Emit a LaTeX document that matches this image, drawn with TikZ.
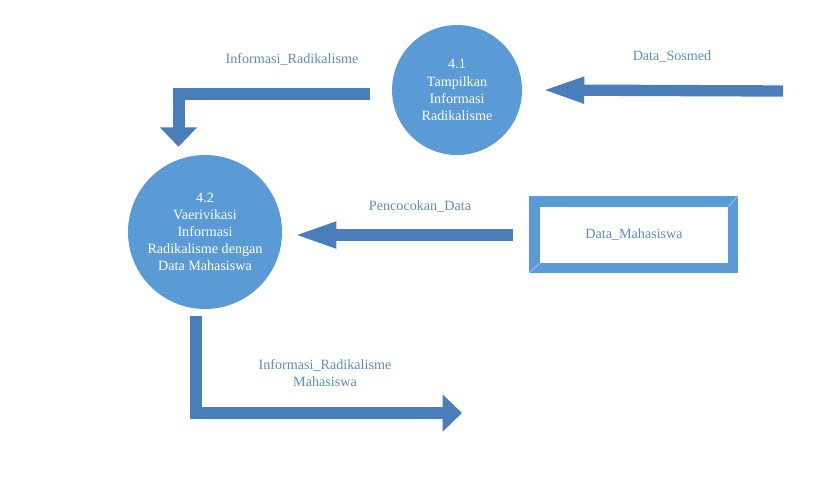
\documentclass[tikz,border=0pt]{standalone}
\usepackage{fontspec}
\setmainfont{Liberation Serif}
\usepackage{tikz}
\usetikzlibrary{arrows.meta}
\usetikzlibrary{positioning}
\definecolor{prosesbiru}{RGB}{91,155,213}
\definecolor{panahbiru}{RGB}{74,126,187}
\definecolor{labelbiru}{RGB}{92,140,198}
\definecolor{garisterang}{RGB}{160,196,232}
\tikzstyle{proses}=[circle,fill=prosesbiru,text=white,align=center,
        inner sep=0pt,font=\fontsize{10.6}{12.8}\selectfont]
\tikzstyle{label}=[text=labelbiru,align=center,font=\fontsize{10.6}{12.8}\selectfont]
\tikzstyle{aliran}=[-{Triangle[length=33pt,width=17.5pt]},draw=panahbiru,
        line width=8.5pt,line join=miter]
\tikzstyle{aliranb}=[-{Triangle[length=14.5pt,width=27pt]},draw=panahbiru,
        line width=9pt,line join=miter]

\begin{document}
\begin{tikzpicture}[x=0.75pt,y=-0.75pt]
\useasboundingbox (0,0) rectangle (820,482);
\node[proses,minimum size=97.5pt] (p41) at (457,90) {4.1\\Tampilkan\\Informasi\\Radikalisme};
\node[proses,minimum size=115.5pt] (p42) at (205,232) {4.2\\Vaerivikasi\\Informasi\\Radikalisme dengan\\Data Mahasiswa};
%Data store
\fill[prosesbiru] (529,196) rectangle (738,273);
\node[fill=white,minimum width=141pt,minimum height=42pt,inner sep=0pt,
      text=labelbiru,font=\fontsize{10.6}{12.8}\selectfont] (dm) at (634,235) {Data\_Mahasiswa};
\draw[garisterang,line width=0.6pt] (dm.north east) -- (738,196);
\draw[garisterang,line width=0.6pt] (dm.south west) -- (529,273);
%Titik ujung panah
\coordinate (sosmed) at (783,91);
\coordinate (dmkiri) at ([xshift=-20.25pt]dm.west);
\coordinate (keluar) at (462,413);
\coordinate (belok1) at (178.5,93.5);
\coordinate (belok2) at (196,413);
%Placement des fleches
\draw[aliran] (sosmed) -- ([xshift=13.5pt]p41.east);
\draw[aliranb] ([xshift=-16.5pt]p41.west |- belok1) -- (belok1) -- ([yshift=6pt]p42.north -| belok1);
\draw[aliran] (dmkiri) -- ([xshift=7.5pt,yshift=-2.25pt]p42.east);
\draw[aliranb] ([yshift=-5.25pt]p42.south -| belok2) -- (belok2) -- (keluar);
%Label
\node[label] (lsosmed) at (672,57) {Data\_Sosmed};
\node[label] (lradikal) at (292,59) {Informasi\_Radikalisme};
\node[label] (lcocok) at (420,207) {Pencocokan\_Data};
\node[label] (lmhs) at (325,373) {Informasi\_Radikalisme\\Mahasiswa};
\end{tikzpicture}
\end{document}
